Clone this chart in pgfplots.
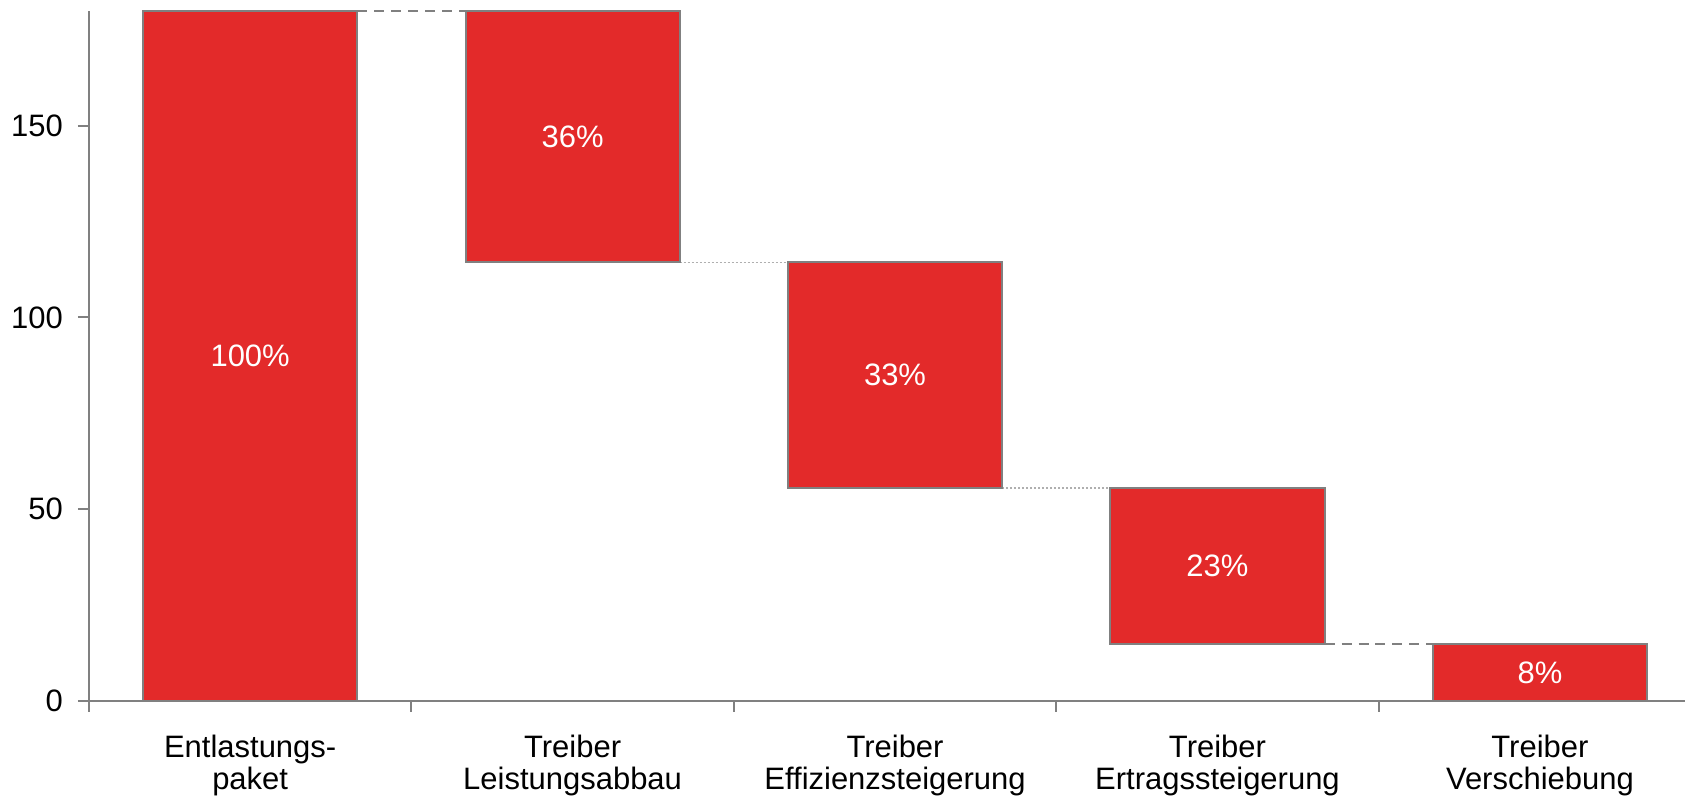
\documentclass[border=0pt]{standalone}
\usepackage{fontspec}
\setmainfont{Liberation Sans}
\usepackage{pgfplots}
\pgfplotsset{compat=1.18}

\definecolor{barred}{RGB}{227,42,42}
\definecolor{edgegray}{RGB}{128,128,128}
\definecolor{dotgray}{RGB}{175,175,175}

\begin{document}
\begin{tikzpicture}
\begin{axis}[
    ybar stacked,
    scale only axis,
    width=798.5pt, height=345pt,
    xmin=-0.5, xmax=4.45,
    ymin=0, ymax=180,
    bar width=0.664,
    clip=false,
    axis lines=left,
    axis line style={-, edgegray, line width=1pt},
    tick align=outside,
    major tick length=5.5pt,
    tick style={edgegray, line width=1pt},
    xtick={-0.5,0.5,1.5,2.5,3.5},
    xticklabels={},
    extra x ticks={0,1,2,3,4},
    extra x tick labels={Entlastungs-\\paket, Treiber\\Leistungsabbau, Treiber\\Effizienzsteigerung, Treiber\\Ertragssteigerung, Treiber\\Verschiebung},
    extra x tick style={major tick length=0pt},
    xticklabel style={align=center, inner ysep=0pt, yshift=-17pt},
    ytick={0,50,100,150},
    yticklabel style={xshift=-4pt},
    /pgf/number format/assume math mode=true,
    tick label style={font=\fontsize{15.5}{15.8}\selectfont},
]
% unsichtbare Basis + sichtbarer Teil (mit Prozentwerten)
\addplot[draw=none, fill=none] coordinates {(0,0) (1,114.4) (2,55.5) (3,14.7) (4,0)};
\addplot[fill=barred, draw=edgegray, line width=1pt,
    point meta=explicit symbolic, nodes near coords,
    every node near coord/.append style={white, font=\fontsize{15.5}{17.7}\selectfont}]
    coordinates {(0,180) [100\%] (1,65.6) [36\%] (2,58.9) [33\%] (3,40.8) [23\%] (4,14.7) [8\%]};

% Verbindungslinien
\addplot[stack plots=false, sharp plot, no marks, edgegray, line width=1pt, dash pattern=on 5pt off 3.5pt]
    coordinates {(0.332,180) (0.668,180)};
\addplot[stack plots=false, sharp plot, no marks, dotgray, line width=0.6pt, dash pattern=on 1pt off 1pt]
    coordinates {(1.332,114.4) (1.668,114.4)};
\addplot[stack plots=false, sharp plot, no marks, dotgray, line width=0.6pt, dash pattern=on 1pt off 1pt]
    coordinates {(2.332,55.5) (2.668,55.5)};
\addplot[stack plots=false, sharp plot, no marks, edgegray, line width=1pt, dash pattern=on 5pt off 3.5pt]
    coordinates {(3.332,14.7) (3.668,14.7)};
\end{axis}
\path (current axis.north west) ++(0,5.5pt);
\path (current axis.south west) ++(-44.5pt,-49pt);
\end{tikzpicture}
\end{document}
